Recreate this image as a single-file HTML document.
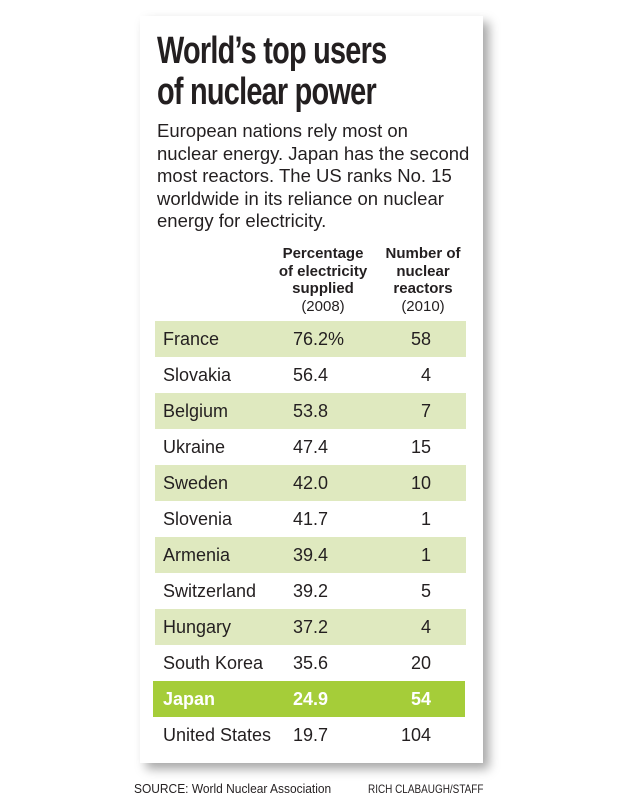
<!DOCTYPE html>
<html><head><meta charset="utf-8"><style>
body{margin:0;width:626px;height:800px;background:#fff;position:relative;font-family:"Liberation Sans",sans-serif;color:#231f20;overflow:hidden}
.card{position:absolute;left:140px;top:16px;width:343px;height:747px;background:#fff;box-shadow:6px 6px 10px rgba(0,0,0,0.35)}
.t{position:absolute;left:157px;font-weight:bold;font-size:38px;letter-spacing:-1px;transform:scaleX(0.76);transform-origin:left top;white-space:nowrap;line-height:1}
.body{position:absolute;left:157px;top:120px;font-size:18.5px;line-height:22.6px;width:330px;white-space:nowrap}
.h{position:absolute;text-align:center;font-size:15px;line-height:17.5px;font-weight:bold}
.h span{font-weight:normal}
.row{position:absolute;left:155px;width:311px;height:36px;font-size:18px;line-height:36px}
.g{background:#dfe9bf}
.row .c{position:absolute;left:8px}
.row .p{position:absolute;left:138px}
.row .n{position:absolute;right:35px}
.jp{background:#a5cd39;color:#fff;font-weight:bold;left:153px;width:312px}
.src{position:absolute;top:781px;font-size:13px;transform-origin:left top;white-space:nowrap}
</style></head><body>
<div class="card"></div>
<div class="t" style="top:32px">World’s top users</div>
<div class="t" style="top:73px">of nuclear power</div>
<div class="body">European nations rely most on<br>nuclear energy. Japan has the second<br>most reactors. The US ranks No. 15<br>worldwide in its reliance on nuclear<br>energy for electricity.</div>
<div class="h" style="left:263px;width:120px;top:245px">Percentage<br>of electricity<br>supplied<br><span>(2008)</span></div>
<div class="h" style="left:373px;width:100px;top:245px">Number of<br>nuclear<br>reactors<br><span>(2010)</span></div>
<div class="row g" style="top:321px"><span class="c">France</span><span class="p">76.2%</span><span class="n">58</span></div>
<div class="row" style="top:357px"><span class="c">Slovakia</span><span class="p">56.4</span><span class="n">4</span></div>
<div class="row g" style="top:393px"><span class="c">Belgium</span><span class="p">53.8</span><span class="n">7</span></div>
<div class="row" style="top:429px"><span class="c">Ukraine</span><span class="p">47.4</span><span class="n">15</span></div>
<div class="row g" style="top:465px"><span class="c">Sweden</span><span class="p">42.0</span><span class="n">10</span></div>
<div class="row" style="top:501px"><span class="c">Slovenia</span><span class="p">41.7</span><span class="n">1</span></div>
<div class="row g" style="top:537px"><span class="c">Armenia</span><span class="p">39.4</span><span class="n">1</span></div>
<div class="row" style="top:573px"><span class="c">Switzerland</span><span class="p">39.2</span><span class="n">5</span></div>
<div class="row g" style="top:609px"><span class="c">Hungary</span><span class="p">37.2</span><span class="n">4</span></div>
<div class="row" style="top:645px"><span class="c">South Korea</span><span class="p">35.6</span><span class="n">20</span></div>
<div class="row jp" style="top:681px"><span class="c" style="left:10px">Japan</span><span class="p" style="left:140px">24.9</span><span class="n" style="right:34px">54</span></div>
<div class="row" style="top:717px"><span class="c">United States</span><span class="p">19.7</span><span class="n">104</span></div>
<div class="src" style="left:134px;transform:scaleX(0.92)">SOURCE: World Nuclear Association</div>
<div class="src" style="left:368px;font-size:12px;top:782px;transform:scaleX(0.83)">RICH CLABAUGH/STAFF</div>
</body></html>
